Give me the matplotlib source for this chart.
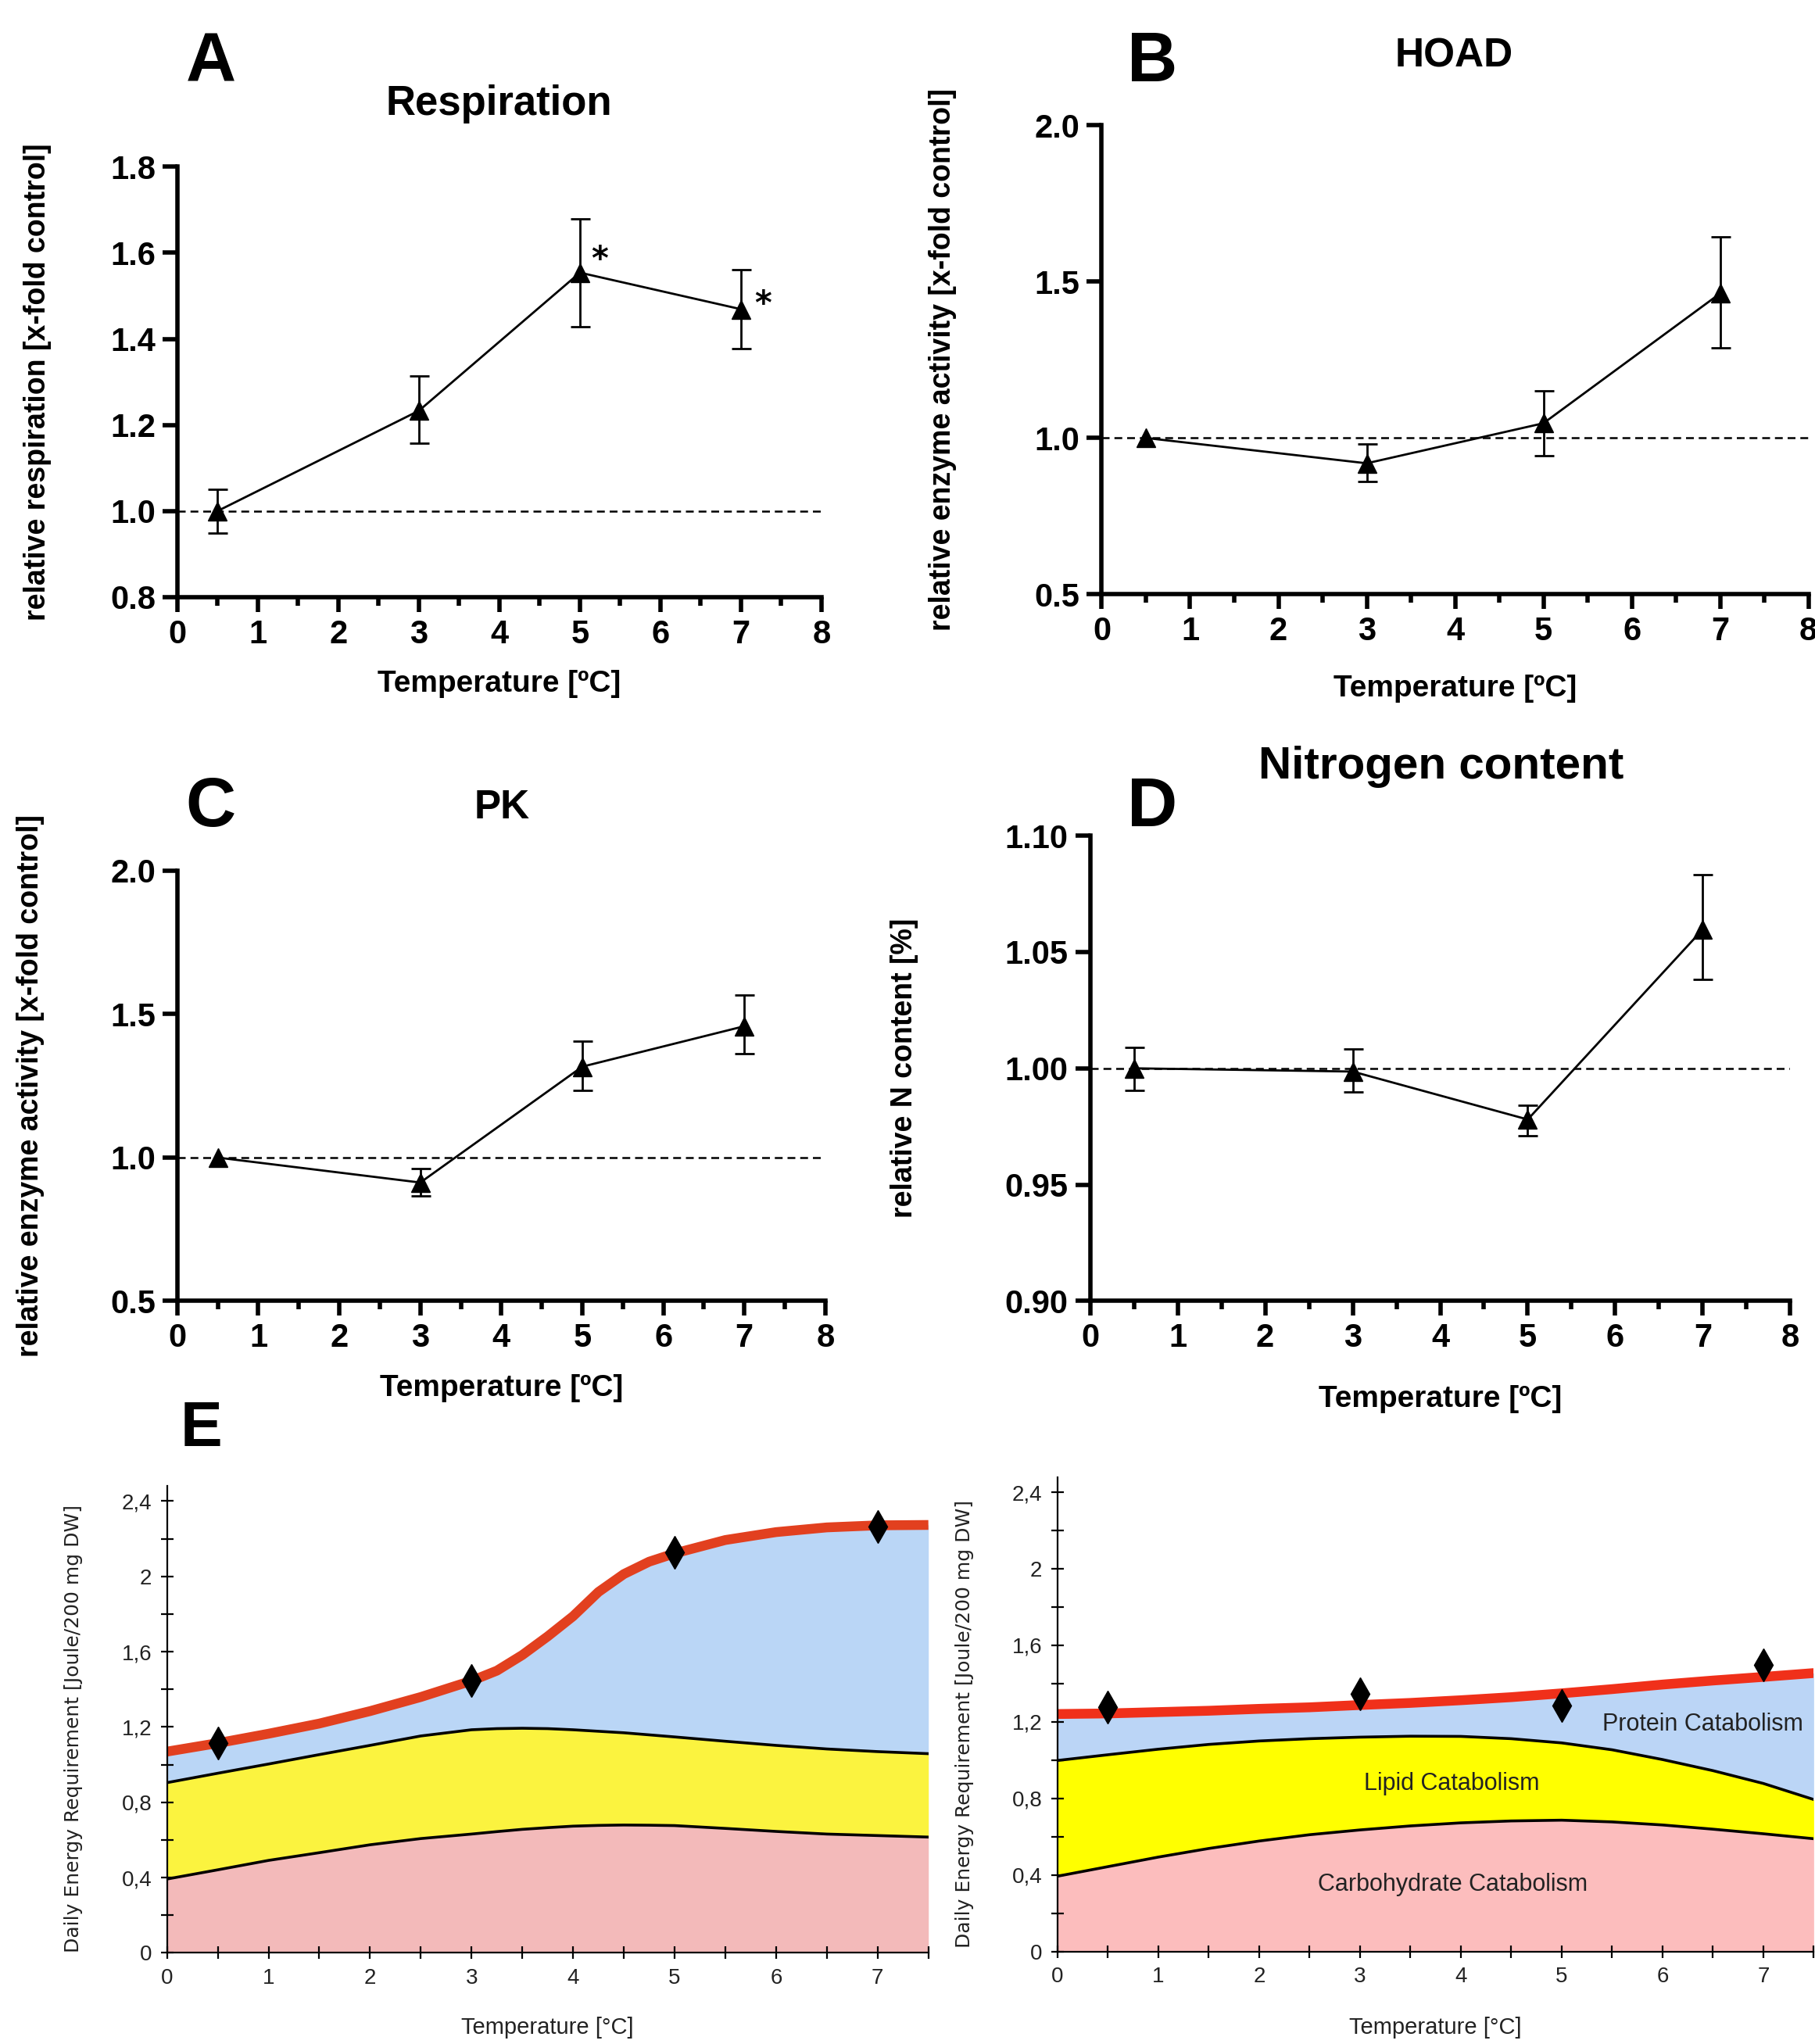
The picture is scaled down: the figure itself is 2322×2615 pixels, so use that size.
import numpy as np
import matplotlib
matplotlib.use("Agg")
from matplotlib import pyplot as plt
from matplotlib.ticker import MultipleLocator, FuncFormatter

# --- panels A-D: relative values vs. temperature ---
temps = [0.5, 3, 5, 7]

resp_mean = [1.0, 1.233, 1.554, 1.469]
resp_lo = [0.948, 1.158, 1.428, 1.378]
resp_hi = [1.05, 1.313, 1.679, 1.56]

hoad_mean = [1.0, 0.919, 1.047, 1.462]
hoad_lo = [np.nan, 0.86, 0.944, 1.289]
hoad_hi = [np.nan, 0.981, 1.15, 1.644]

pk_mean = [1.0, 0.913, 1.317, 1.458]
pk_lo = [np.nan, 0.867, 1.233, 1.361]
pk_hi = [np.nan, 0.963, 1.405, 1.568]

n_mean = [1.0, 0.9986, 0.978, 1.0597]
n_lo = [0.9905, 0.9899, 0.9711, 1.0381]
n_hi = [1.0089, 1.0083, 0.984, 1.0833]

# --- panel E: daily energy requirement (stacked) ---
e_left_t = [0, 0.5, 1, 1.5, 2, 2.5, 3, 3.25, 3.5, 3.75, 4, 4.25, 4.5, 4.75, 5, 5.5, 6, 6.5, 7, 7.5]
e_left_carb = [0.392, 0.441, 0.491, 0.532, 0.574, 0.607, 0.631, 0.644, 0.656, 0.665,
               0.673, 0.677, 0.679, 0.678, 0.676, 0.661, 0.645, 0.631, 0.623, 0.615]
e_left_lipid = [0.904, 0.954, 1.003, 1.053, 1.102, 1.152, 1.185, 1.191, 1.193, 1.191,
                1.185, 1.177, 1.169, 1.158, 1.147, 1.124, 1.102, 1.083, 1.069, 1.058]
e_left_total = [1.069, 1.114, 1.164, 1.218, 1.284, 1.359, 1.445, 1.499, 1.582, 1.681,
                1.788, 1.917, 2.012, 2.078, 2.122, 2.193, 2.235, 2.26, 2.271, 2.273]
e_left_meas = [1.114, 1.445, 2.127, 2.265]

e_right_t = [0, 0.5, 1, 1.5, 2, 2.5, 3, 3.5, 4, 4.5, 5, 5.5, 6, 6.5, 7, 7.5]
e_right_carb = [0.393, 0.443, 0.493, 0.538, 0.577, 0.610, 0.635, 0.656,
                0.672, 0.682, 0.686, 0.677, 0.661, 0.639, 0.615, 0.589]
e_right_lipid = [0.998, 1.028, 1.057, 1.082, 1.100, 1.112, 1.120, 1.125,
                 1.124, 1.112, 1.090, 1.054, 1.003, 0.945, 0.878, 0.794]
e_right_total = [1.241, 1.244, 1.251, 1.258, 1.268, 1.276, 1.288, 1.299,
                 1.313, 1.329, 1.349, 1.371, 1.395, 1.416, 1.435, 1.455]
e_right_meas = [1.276, 1.348, 1.284, 1.497]

BOLD = ["Liberation Sans", "DejaVu Sans"]
NARROW = ["Liberation Sans Narrow", "Liberation Sans", "DejaVu Sans"]

fig = plt.figure(figsize=(23.22, 26.15), dpi=100)


def gp_panel(rect, mean, lo, hi, ylim, ystep, ylabel, title, title_xy, title_size,
             letter, letter_xy, ylab_x, xlab_y, yfmt):
    ax = fig.add_axes(rect)
    mean = np.array(mean)
    err = np.vstack([mean - np.array(lo), np.array(hi) - mean])
    ax.axhline(1.0, xmin=0, xmax=1, color="black", lw=1.8, ls=(0, (4, 2.5)), zorder=1)
    ax.errorbar(temps, mean, yerr=err, color="black", lw=2.0, elinewidth=2.0,
                capsize=9, capthick=2.0, marker="^", markersize=17, zorder=3,
                clip_on=False)
    ax.set_xlim(0, 8)
    ax.set_ylim(*ylim)
    ax.xaxis.set_major_locator(MultipleLocator(1))
    ax.xaxis.set_minor_locator(MultipleLocator(0.5))
    ax.yaxis.set_major_locator(MultipleLocator(ystep))
    ax.yaxis.set_major_formatter(FuncFormatter(lambda v, p: yfmt.format(v)))
    for s in ["top", "right"]:
        ax.spines[s].set_visible(False)
    for s in ["left", "bottom"]:
        ax.spines[s].set_linewidth(4)
    ax.tick_params(which="major", length=14, width=4, labelsize=30, pad=6)
    ax.tick_params(which="minor", axis="x", length=8, width=4)
    for lab in ax.get_xticklabels() + ax.get_yticklabels():
        lab.set_fontfamily(BOLD)
        lab.set_fontweight("bold")
    ax.set_xlabel("Temperature [ºC]", fontsize=28, fontweight="bold", family=BOLD)
    ax.xaxis.set_label_coords(0.5, xlab_y)
    ax.set_ylabel(ylabel, fontsize=27, fontweight="bold", family=BOLD)
    ax.yaxis.set_label_coords(ylab_x, 0.5)
    fig.text(title_xy[0], title_xy[1], title, fontsize=title_size, fontweight="bold",
             family=BOLD, ha="center", va="center")
    fig.text(letter_xy[0], letter_xy[1], letter, fontsize=64, fontweight="bold",
             family=BOLD, ha="center", va="center")
    return ax


axA = gp_panel([0.0977, 0.7079, 0.3549, 0.2105], resp_mean, resp_lo, resp_hi,
               (0.8, 1.8), 0.2, "relative respiration [x-fold control]",
               "Respiration", (0.275, 0.949), 38, "A", (0.116, 0.969), -0.195, -0.17, "{:.1f}")
axA.text(5.24, 1.583, "*", fontsize=30, fontweight="bold", ha="center", va="center")
axA.text(7.27, 1.479, "*", fontsize=30, fontweight="bold", ha="center", va="center")

gp_panel([0.607, 0.7092, 0.3894, 0.2296], hoad_mean, hoad_lo, hoad_hi,
         (0.5, 2.0), 0.5, "relative enzyme activity [x-fold control]",
         "HOAD", (0.801, 0.9726), 37, "B", (0.635, 0.969), -0.205, -0.17, "{:.1f}")

gp_panel([0.0977, 0.3635, 0.357, 0.2105], pk_mean, pk_lo, pk_hi,
         (0.5, 2.0), 0.5, "relative enzyme activity [x-fold control]",
         "PK", (0.2766, 0.6046), 37, "C", (0.116, 0.6046), -0.205, -0.17, "{:.1f}")

gp_panel([0.6006, 0.3635, 0.3858, 0.2277], n_mean, n_lo, n_hi,
         (0.9, 1.1), 0.05, "relative N content [%]",
         "Nitrogen content", (0.794, 0.625), 42, "D", (0.635, 0.6046), -0.245, -0.18, "{:.2f}")


def energy_panel(rect, t, carb, lipid, total, meas, cols, red, labels):
    ax = fig.add_axes(rect)
    ax.fill_between(t, 0, carb, color=cols[0], lw=0)
    ax.fill_between(t, carb, lipid, color=cols[1], lw=0)
    ax.fill_between(t, lipid, total, color=cols[2], lw=0)
    ax.plot(t, carb, color="black", lw=2.6)
    ax.plot(t, lipid, color="black", lw=2.6)
    ax.plot(t, total, color=red, lw=9, solid_capstyle="butt", solid_joinstyle="round")
    ax.plot(temps, meas, ls="none", marker="d", markersize=21, color="black", zorder=5)
    ax.set_xlim(0, 7.5)
    ax.set_ylim(0, 2.48)
    ax.xaxis.set_major_locator(MultipleLocator(1))
    ax.xaxis.set_minor_locator(MultipleLocator(0.5))
    ax.yaxis.set_major_locator(MultipleLocator(0.4))
    ax.yaxis.set_minor_locator(MultipleLocator(0.2))
    ax.yaxis.set_major_formatter(FuncFormatter(lambda v, p: f"{v:g}".replace(".", ",")))
    for s in ["top", "right"]:
        ax.spines[s].set_visible(False)
    for s in ["left", "bottom"]:
        ax.spines[s].set_linewidth(1.6)
    ax.tick_params(which="both", direction="inout", width=1.6, labelsize=20, pad=8)
    ax.tick_params(which="major", length=12)
    ax.tick_params(which="minor", length=12)
    for lab in ax.get_xticklabels() + ax.get_yticklabels():
        lab.set_fontfamily(NARROW)
        lab.set_color("#222222")
    ax.set_xlabel("Temperature [°C]", fontsize=21, family=NARROW, color="#222222",
                  va="center")
    ax.xaxis.set_label_coords(0.5, -0.16)
    ax.set_ylabel("Daily Energy Requirement [Joule/200 mg DW]", fontsize=18,
                  family="DejaVu Sans", color="#222222")
    ax.yaxis.set_label_coords(-0.11, 0.48)
    if labels:
        ax.text(6.40, 1.187, "Protein Catabolism", fontsize=22, family=NARROW,
                ha="center", va="center", color="#222222")
        ax.text(3.91, 0.878, "Lipid Catabolism", fontsize=22, family=NARROW,
                ha="center", va="center", color="#222222")
        ax.text(3.92, 0.351, "Carbohydrate Catabolism", fontsize=22, family=NARROW,
                ha="center", va="center", color="#222222")
    return ax


energy_panel([0.092, 0.0446, 0.4195, 0.2284], e_left_t, e_left_carb, e_left_lipid,
             e_left_total, e_left_meas, ["#F3BABA", "#FBF33F", "#BAD6F6"], "#E2401F", False)
energy_panel([0.5826, 0.0453, 0.4167, 0.2321], e_right_t, e_right_carb, e_right_lipid,
             e_right_total, e_right_meas, ["#FCBDBD", "#FFFF00", "#BBD5F6"], "#F0301A", True)

fig.text(0.111, 0.3004, "E", fontsize=58, fontweight="bold", family=NARROW,
         ha="center", va="center")

fig.savefig("out.png", dpi=100)
